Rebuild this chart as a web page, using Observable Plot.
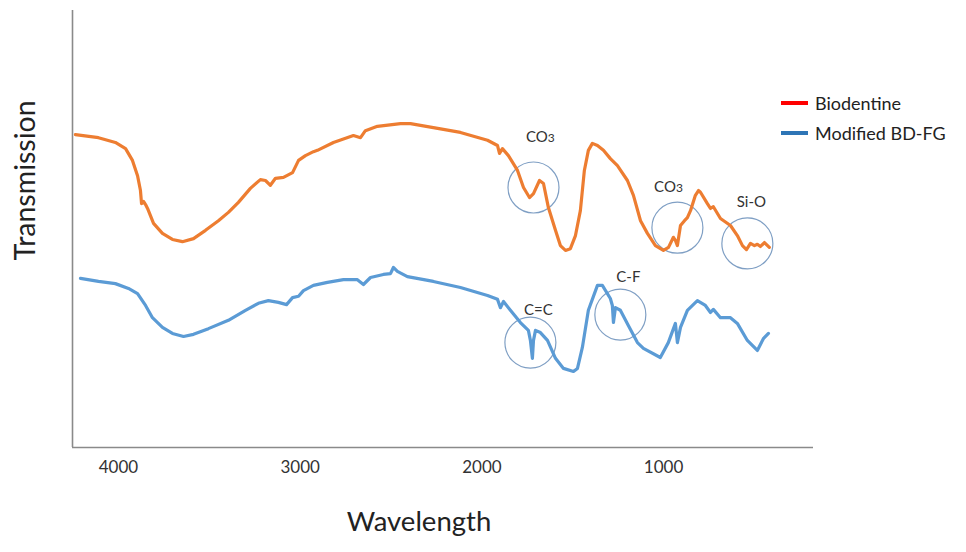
<!DOCTYPE html>
<html>
<head>
<meta charset="utf-8">
<script src="https://cdn.jsdelivr.net/npm/d3@7"></script>
<script src="https://cdn.jsdelivr.net/npm/@observablehq/plot@0.6"></script>
<style>
  html, body { margin: 0; padding: 0; background: #fff; }
  #wrap { position: relative; width: 966px; height: 552px; font-family: Lato, "Open Sans", sans-serif; }
  #legend { position: absolute; left: 781px; top: 88px; font-size: 18px; color: #222; line-height: 30px; }
  #legend .row { display: flex; align-items: center; white-space: nowrap; }
  #legend .sw { display: inline-block; width: 27px; height: 4px; margin-right: 7px; }
</style>
</head>
<body>
<div id="wrap"></div>
<script>
// Wavenumber (cm-1) and transmission (arbitrary %)
const biodentineWn = [4237,4110,4017,3961,3923,3895,3879,3873,3862,3851,3840,3807,3758,3703,3648,3587,3521,3450,3395,3340,3274,3219,3191,3164,3136,3092,3042,3009,2971,2927,2905,2817,2707,2668,2641,2575,2448,2393,2267,2118,1969,1914,1903,1887,1854,1804,1771,1738,1716,1683,1661,1634,1595,1568,1540,1513,1485,1458,1436,1414,1392,1364,1331,1293,1254,1199,1166,1127,1089,1045,1001,973,946,935,924,907,885,869,852,825,808,797,759,742,726,687,632,594,566,544,522,500,484,467,445,418];
const biodentineT  = [71.6,70.9,69.8,68.4,65.7,62.2,58.8,55.8,56.3,55.6,54.7,51.3,49.0,47.6,47.1,47.8,49.7,51.9,53.8,56.1,59.3,61.3,61.1,60.0,61.6,61.8,62.9,65.7,66.8,67.7,68.0,69.8,71.4,70.9,72.5,73.5,74.1,74.1,73.2,72.1,70.3,69.1,67.3,68.4,66.8,63.4,59.5,57.2,58.1,61.1,60.4,54.9,49.7,46.2,45.1,45.5,48.5,54.2,63.4,68.0,69.6,69.1,68.0,66.1,64.5,61.1,57.7,51.9,49.0,46.2,45.1,45.8,48.1,47.4,46.2,50.8,51.9,52.6,54.2,57.7,58.8,58.4,55.8,54.7,55.1,52.4,50.8,48.5,46.2,45.3,46.7,46.2,46.5,46.0,46.9,45.8];

const modifiedWn = [4209,4110,4017,3945,3895,3851,3813,3758,3703,3642,3587,3505,3395,3301,3230,3175,3120,3075,3042,3009,2982,2927,2850,2762,2685,2652,2613,2542,2503,2487,2465,2410,2267,2118,1969,1914,1898,1881,1843,1788,1744,1733,1722,1716,1705,1678,1639,1595,1551,1496,1474,1447,1414,1364,1337,1293,1282,1276,1265,1238,1194,1144,1111,1018,974,935,924,907,869,814,770,742,726,687,632,594,539,484,451,423];
const modifiedT  = [38.7,38.0,37.5,36.4,35.2,32.5,29.7,27.5,26.1,25.4,25.9,27.2,29.1,31.4,33.0,33.6,33.2,32.7,34.3,34.6,35.9,37.1,37.8,38.4,38.4,37.3,38.9,39.6,39.8,41.2,40.3,39.1,38.0,36.6,34.8,33.9,32.0,33.4,31.4,28.6,26.8,24.5,20.4,24.5,26.8,26.3,24.5,20.4,18.1,17.4,18.1,22.9,31.4,37.1,37.1,34.1,32.5,28.6,32.0,31.4,27.9,24.0,22.7,20.6,24.0,28.4,24.0,27.5,31.4,33.6,32.5,30.9,31.6,29.7,29.7,28.4,24.5,22.2,24.9,26.1];

const xTicks = [4000, 3000, 2000, 1000];

const noteLabels = ["CO3", "CO3", "Si-O", "C=C", "C-F"];
const noteLabelWn = [1678, 973, 517, 1689, 1194];
const noteLabelT  = [70.9, 59.5, 56.1, 31.4, 38.9];
const ringWn = [1716, 924, 539, 1733, 1238];
const ringT  = [59.5, 50.3, 46.7, 24.0, 30.4];

const seriesNames = ["Biodentine", "Modified BD-FG"];
const legendColors = ["#ff0000", "#2e75b6"];

const bio = biodentineWn.map((w, i) => ({wn: w, t: biodentineT[i]}));
const mod = modifiedWn.map((w, i) => ({wn: w, t: modifiedT[i]}));
const labels = noteLabels.map((s, i) => ({s, wn: noteLabelWn[i], t: noteLabelT[i]}));
const rings = ringWn.map((w, i) => ({wn: w, t: ringT[i]}));

const font = "Lato, 'Open Sans', sans-serif";

const chart = Plot.plot({
  width: 966,
  height: 552,
  marginTop: 10,
  marginRight: 153,
  marginBottom: 105,
  marginLeft: 72,
  style: {fontFamily: font, background: "#fff", overflow: "visible"},
  x: {domain: [4253, 175]},
  y: {domain: [0, 100]},
  marks: [
    Plot.axisX({ticks: xTicks, tickSize: 0, tickPadding: 13, tickFormat: d => String(d), fontSize: 17, fill: "#333", label: null}),
    Plot.axisY({ticks: [], label: null}),
    Plot.ruleY([0], {stroke: "#8a8a8a", strokeWidth: 1.6}),
    Plot.ruleX([4253], {stroke: "#8a8a8a", strokeWidth: 1.6}),
    Plot.dot(rings, {x: "wn", y: "t", r: 25.5, stroke: "#7f9fc4", strokeWidth: 1.2, fill: "none"}),
    Plot.line(bio, {x: "wn", y: "t", stroke: "#ed7d31", strokeWidth: 3.2, curve: "linear"}),
    Plot.line(mod, {x: "wn", y: "t", stroke: "#5b9bd5", strokeWidth: 3.2, curve: "linear"}),
    Plot.text(labels, {x: "wn", y: "t", text: "s", fontSize: 15, fill: "#333"}),
    Plot.text(["Wavelength"], {frameAnchor: "bottom", dx: -24, dy: 83, fontSize: 27.5, fill: "#222"}),
    Plot.text(["Transmission"], {frameAnchor: "top-left", dx: -47, dy: 170, rotate: -90, textAnchor: "middle", lineAnchor: "middle", fontSize: 28.5, fill: "#222"})
  ]
});

// smaller "3" in CO3
d3.select(chart).selectAll("text").filter(function() { return this.textContent === "CO3"; })
  .each(function() {
    const t = d3.select(this);
    t.text("CO");
    t.append("tspan").attr("font-size", 12).text("3");
  });

const wrap = document.getElementById("wrap");
wrap.appendChild(chart);

const legend = document.createElement("div");
legend.id = "legend";
seriesNames.forEach((n, i) => {
  const row = document.createElement("div");
  row.className = "row";
  const sw = document.createElement("span");
  sw.className = "sw";
  sw.style.background = legendColors[i];
  const lab = document.createElement("span");
  lab.textContent = n;
  row.appendChild(sw);
  row.appendChild(lab);
  legend.appendChild(row);
});
wrap.appendChild(legend);
</script>
</body>
</html>
